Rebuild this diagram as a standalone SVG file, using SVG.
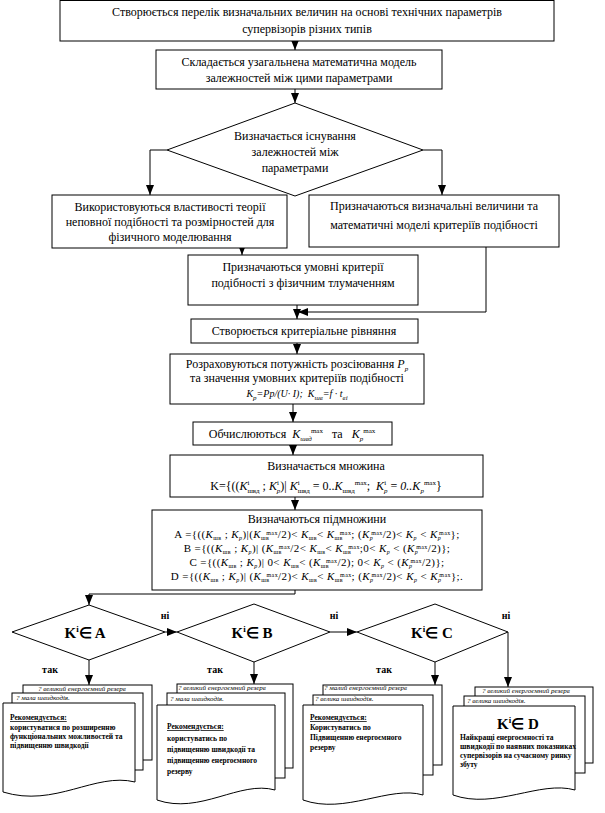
<svg xmlns="http://www.w3.org/2000/svg" width="605" height="813" viewBox="0 0 605 813">
<defs>
<marker id="ah" viewBox="0 0 10 8" markerWidth="10" markerHeight="8" refX="10" refY="4" orient="auto" markerUnits="userSpaceOnUse"><path d="M0,0 L10,4 L0,8 z" fill="#000"/></marker>
<style>
.b{fill:#fff;stroke:#000;stroke-width:1}
.c{fill:none;stroke:#000;stroke-width:1}
.a{marker-end:url(#ah)}
.t{font-family:"Liberation Serif","Times New Roman",serif;font-size:12px;fill:#000;text-anchor:middle}
.f{font-style:italic}
.sb{font-size:7px;baseline-shift:-3px}
.sp{font-size:7px;baseline-shift:5px}
.m .sb{font-size:6px;baseline-shift:-2px}
.m .sp{font-size:6px;baseline-shift:3px}
.ml{font-size:11px;letter-spacing:0.4px}
.k{font-family:"Liberation Serif",serif;font-size:15px;font-weight:bold;text-anchor:middle}
.ks{font-size:9px;baseline-shift:6px}
.lb{font-family:"Liberation Serif",serif;font-size:10px;font-weight:bold;text-anchor:middle}
.s{font-family:"Liberation Serif",serif;font-size:7px;font-style:italic}
.d{font-family:"Liberation Serif",serif;font-size:7.5px;font-weight:bold}
</style>
</defs>
<rect width="605" height="813" fill="#fff"/>

<g id="connectors">
<line class="c a" x1="295" y1="41" x2="295" y2="50"/>
<line class="c a" x1="295" y1="89" x2="295" y2="103"/>
<polyline class="c a" points="167,150 150,150 150,195"/>
<polyline class="c a" points="423,150 442,150 442,195"/>
<line class="c a" x1="242" y1="248" x2="242" y2="255"/>
<polyline class="c a" points="486,247 486,312 298,312"/>
<line class="c a" x1="297" y1="305" x2="297" y2="319"/>
<line class="c a" x1="297" y1="343" x2="297" y2="354"/>
<line class="c a" x1="293" y1="404" x2="293" y2="422"/>
<line class="c a" x1="293" y1="445" x2="293" y2="455"/>
<line class="c a" x1="295" y1="497" x2="295" y2="510"/>
<polyline class="c a" points="295,590 295,594 89,594 89,605"/>
<line class="c a" x1="165" y1="632" x2="177" y2="632"/>
<line class="c a" x1="330" y1="632" x2="357" y2="632"/>
<polyline class="c a" points="508,632 508,687"/>
<line class="c a" x1="89" y1="660" x2="89" y2="685"/>
<line class="c a" x1="254" y1="662" x2="254" y2="684"/>
<line class="c a" x1="435" y1="662" x2="435" y2="685"/>
<text class="lb" x="165" y="619">ні</text>
<text class="lb" x="334" y="619">ні</text>
<text class="lb" x="506" y="619">ні</text>
<text class="lb" x="50" y="673">так</text>
<text class="lb" x="215" y="673">так</text>
<text class="lb" x="384" y="673">так</text>
</g>

<g id="n1">
<rect class="b" x="60" y="0.5" width="494" height="40.5"/>
<text class="t" x="307" y="16">Створюється перелік визначальних величин на основі технічних параметрів</text>
<text class="t" x="307" y="33">супервізорів різних типів</text>
</g>

<g id="n2">
<rect class="b" x="156" y="50" width="286" height="39"/>
<text class="t" x="299" y="66">Складається узагальнена математична модель</text>
<text class="t" x="299" y="82">залежностей між цими параметрами</text>
</g>

<g id="n3">
<polygon class="b" points="295,103 423,150 295,196 167,150"/>
<text class="t" x="295" y="140">Визначається існування</text>
<text class="t" x="295" y="156">залежностей між</text>
<text class="t" x="295" y="172">параметрами</text>
</g>

<g id="n4">
<rect class="b" x="52" y="195" width="235" height="53"/>
<text class="t" x="170" y="211">Використовуються властивості теорії</text>
<text class="t" x="170" y="226">неповної подібності та розмірностей для</text>
<text class="t" x="170" y="241">фізичного моделювання</text>
</g>

<g id="n5">
<rect class="b" x="309" y="195" width="250" height="52"/>
<text class="t" x="434" y="210">Призначаються визначальні величини та</text>
<text class="t" x="434" y="229">математичні моделі критеріїв подібності</text>
</g>

<g id="n6">
<rect class="b" x="188" y="255" width="230" height="50"/>
<text class="t" x="303" y="271">Призначаються умовні критерії</text>
<text class="t" x="303" y="287">подібності з фізичним тлумаченням</text>
</g>

<g id="n7">
<rect class="b" x="191" y="319" width="227" height="24"/>
<text class="t" x="304" y="335">Створюється критеріальне рівняння</text>
</g>

<g id="n8">
<rect class="b" x="170" y="354" width="254" height="50"/>
<text class="t" x="297" y="368">Розраховуються потужність розсіювання <tspan class="f">P</tspan><tspan class="sb f">р</tspan></text>
<text class="t" x="297" y="382">та значення умовних критеріїв подібності</text>
<text class="t f" x="297" y="397" style="font-size:10px">K<tspan class="sb">р</tspan>=Pp/(U· I);&#160;&#160;K<tspan class="sb">шв</tspan>=f · t<tspan class="sb">ві</tspan></text>
</g>

<g id="n9">
<rect class="b" x="193" y="422" width="199" height="23"/>
<text class="t" x="292" y="438">Обчислюються&#160;&#160;<tspan class="f">K</tspan><tspan class="sb f">швд</tspan><tspan class="sp" dx="-1">max</tspan>&#160;&#160;&#160;та&#160;&#160;&#160;<tspan class="f">K</tspan><tspan class="sb f">р</tspan><tspan class="sp">max</tspan></text>
</g>

<g id="n10">
<rect class="b" x="170" y="455" width="313" height="42"/>
<text class="t" x="326" y="470">Визначається множина</text>
<text class="t" x="326" y="490">K={((<tspan class="f">K</tspan><tspan class="sp">i</tspan><tspan class="sb" dx="-2">швд</tspan> ; <tspan class="f">K</tspan><tspan class="sp">i</tspan><tspan class="sb f" dx="-2">р</tspan>)| <tspan class="f">K</tspan><tspan class="sp">i</tspan><tspan class="sb" dx="-2">швд</tspan> = 0..<tspan class="f">K</tspan><tspan class="sb">швд</tspan><tspan class="sp">max</tspan>;&#160;&#160;<tspan class="f">K</tspan><tspan class="sp">i</tspan><tspan class="sb f" dx="-2">р</tspan> = <tspan class="f">0..K</tspan><tspan class="sb f">р</tspan><tspan class="sp">max</tspan>}</text>
</g>

<g id="n11" class="m">
<rect class="b" x="152" y="510" width="330" height="80"/>
<text class="t" x="317" y="523">Визначаються підмножини</text>
<text class="t ml" x="317" y="538">A ={((<tspan class="f">K</tspan><tspan class="sb">шв</tspan> ; <tspan class="f">K</tspan><tspan class="sb f">р</tspan>)|(<tspan class="f">K</tspan><tspan class="sb">шв</tspan><tspan class="sp" dx="-3">max</tspan>/2)&lt; <tspan class="f">K</tspan><tspan class="sb">шв</tspan>&lt; <tspan class="f">K</tspan><tspan class="sb">шв</tspan><tspan class="sp" dx="-3">max</tspan>; (<tspan class="f">K</tspan><tspan class="sb f">р</tspan><tspan class="sp" dx="-2">max</tspan>/2)&lt; <tspan class="f">K</tspan><tspan class="sb f">р</tspan> &lt; <tspan class="f">K</tspan><tspan class="sb f">р</tspan><tspan class="sp" dx="-2">max</tspan>};</text>
<text class="t ml" x="317" y="552">B ={((<tspan class="f">K</tspan><tspan class="sb">шв</tspan> ; <tspan class="f">K</tspan><tspan class="sb f">р</tspan>)| (<tspan class="f">K</tspan><tspan class="sb">шв</tspan><tspan class="sp" dx="-3">max</tspan>/2&lt; <tspan class="f">K</tspan><tspan class="sb">шв</tspan>&lt; <tspan class="f">K</tspan><tspan class="sb">шв</tspan><tspan class="sp" dx="-3">max</tspan>;0&lt; <tspan class="f">K</tspan><tspan class="sb f">р</tspan> &lt; (<tspan class="f">K</tspan><tspan class="sb f">р</tspan><tspan class="sp" dx="-2">max</tspan>/2)};</text>
<text class="t ml" x="317" y="566">C ={((<tspan class="f">K</tspan><tspan class="sb">шв</tspan> ; <tspan class="f">K</tspan><tspan class="sb f">р</tspan>)| 0&lt; <tspan class="f">K</tspan><tspan class="sb">шв</tspan>&lt; (<tspan class="f">K</tspan><tspan class="sb">шв</tspan><tspan class="sp" dx="-3">max</tspan>/2); 0&lt; <tspan class="f">K</tspan><tspan class="sb f">р</tspan> &lt; (<tspan class="f">K</tspan><tspan class="sb f">р</tspan><tspan class="sp" dx="-2">max</tspan>/2)};</text>
<text class="t ml" x="317" y="580">D ={((<tspan class="f">K</tspan><tspan class="sb">шв</tspan> ; <tspan class="f">K</tspan><tspan class="sb f">р</tspan>)| (<tspan class="f">K</tspan><tspan class="sb">шв</tspan><tspan class="sp" dx="-3">max</tspan>/2)&lt; <tspan class="f">K</tspan><tspan class="sb">шв</tspan>&lt; <tspan class="f">K</tspan><tspan class="sb">шв</tspan><tspan class="sp" dx="-3">max</tspan>; (<tspan class="f">K</tspan><tspan class="sb f">р</tspan><tspan class="sp" dx="-2">max</tspan>/2)&lt; <tspan class="f">K</tspan><tspan class="sb f">р</tspan> &lt; <tspan class="f">K</tspan><tspan class="sb f">р</tspan><tspan class="sp" dx="-2">max</tspan>};.</text>
</g>

<g id="dA">
<polygon class="b" points="89,605 165,632 89,660 12,632"/>
<text class="k" x="85" y="638">K<tspan class="ks">i</tspan>∈ A</text>
</g>
<g id="dB">
<polygon class="b" points="254,604 330,632 254,662 177,632"/>
<text class="k" x="252" y="638">K<tspan class="ks">i</tspan>∈ B</text>
</g>
<g id="dC">
<polygon class="b" points="435,604 508,632 435,662 357,632"/>
<text class="k" x="432" y="638">K<tspan class="ks">i</tspan>∈ C</text>
</g>

<g id="doc1">
<rect class="b" x="23" y="685" width="129" height="75"/>
<rect class="b" x="12" y="693" width="131" height="77"/>
<path class="b" d="M3,703 H135 V782 C95,772 55,808 3,792 Z"/>
<text class="s" x="38" y="691">? великий енергоємний резерв</text>
<text class="s" x="16" y="700">? мала швидкодія.</text>
<text class="d" x="10" y="720" text-decoration="underline">Рекомендується:</text>
<text class="d" x="10" y="730">користуватися по розширенню</text>
<text class="d" x="10" y="739">функціональних можливостей та</text>
<text class="d" x="10" y="748">підвищенню швидкодії</text>
</g>

<g id="doc2">
<rect class="b" x="177" y="684" width="116" height="84"/>
<rect class="b" x="167" y="693" width="118" height="85"/>
<path class="b" d="M157,705 H275 V790 C240,780 200,815 157,800 Z"/>
<text class="s" x="178" y="690">? великий енергоємний резерв</text>
<text class="s" x="170" y="701">? мала швидкодія.</text>
<text class="d" x="167" y="729" text-decoration="underline">Рекомендується:</text>
<text class="d" x="167" y="741">користуватись по</text>
<text class="d" x="167" y="752">підвищенню швидкодії та</text>
<text class="d" x="167" y="763">підвищенню енергоємного</text>
<text class="d" x="167" y="774">резерву</text>
</g>

<g id="doc3">
<rect class="b" x="323" y="685" width="119" height="80"/>
<rect class="b" x="313" y="695" width="120" height="80"/>
<path class="b" d="M303,705 H423 V795 C390,785 345,815 303,800 Z"/>
<text class="s" x="324" y="690">? малий енергоємний резерв</text>
<text class="s" x="315" y="701">? велика швидкодія.</text>
<text class="d" x="310" y="720" text-decoration="underline">Рекомендується:</text>
<text class="d" x="310" y="730">Користуватись по</text>
<text class="d" x="310" y="740">Підвищенню енергоємного</text>
<text class="d" x="310" y="750">резерву</text>
</g>

<g id="doc4">
<rect class="b" x="475" y="687" width="118" height="76"/>
<rect class="b" x="464" y="696" width="121" height="77"/>
<path class="b" d="M453,706 H575 V790 C540,780 495,810 453,795 Z"/>
<text class="s" x="482" y="693">? великий енергоємний резерв</text>
<text class="s" x="467" y="703">? велика швидкодія.</text>
<text class="k" x="518" y="729">K<tspan class="ks">i</tspan>∈ D</text>
<text class="d" x="460" y="740">Найкращі енергоємності та</text>
<text class="d" x="460" y="749">швидкодії по наявних показниках</text>
<text class="d" x="460" y="758">супервізорів на сучасному ринку</text>
<text class="d" x="460" y="767">збуту</text>
</g>
</svg>
